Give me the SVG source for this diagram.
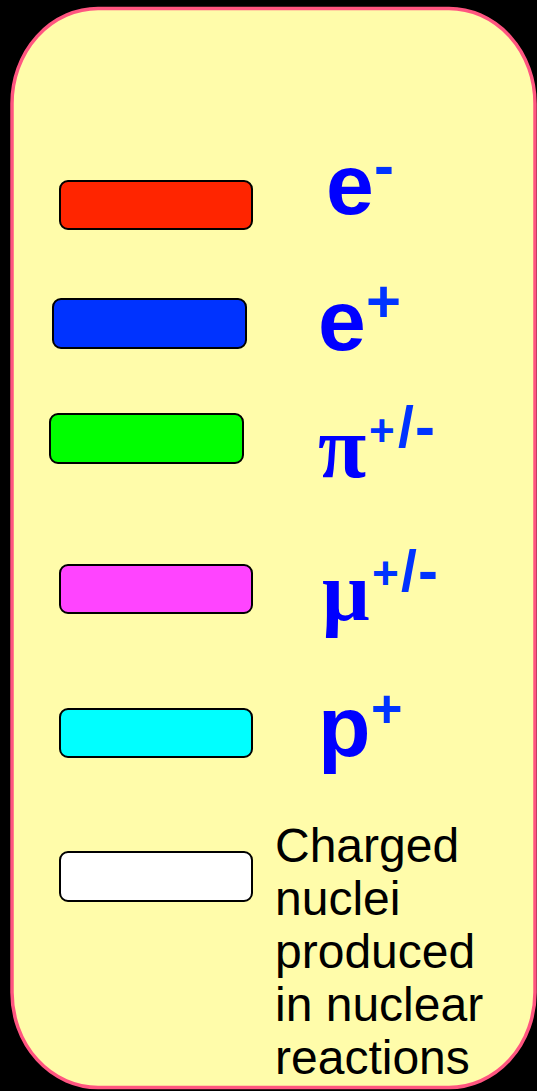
<svg xmlns="http://www.w3.org/2000/svg" width="537" height="1091" viewBox="0 0 537 1091">
<style>
.bar{stroke:#000;stroke-width:2;}
.sym{font-family:"Liberation Sans",Arial,sans-serif;font-weight:bold;fill:#0000FF;}
.greek{font-family:"Liberation Serif","Times New Roman",serif;font-weight:bold;fill:#0000FF;}
.sup{font-family:"Liberation Sans",Arial,sans-serif;font-weight:bold;fill:#0033FF;}
.label{font-family:"Liberation Sans",Arial,sans-serif;font-size:48px;fill:#000;}
</style>
<rect x="0" y="0" width="537" height="1091" fill="#000"/>
<g id="panel">
<rect x="12" y="8.5" width="523" height="1079" rx="86" ry="95" fill="#FFFCAA" stroke="#FF5580" stroke-width="3.5"/>
</g>
<g id="electron">
<rect class="bar" x="60" y="181" width="192" height="48" rx="8" fill="#FF2500"/>
<text class="sym" x="326" y="214" font-size="86">e<tspan class="sup" x="374" y="186" font-size="60">-</tspan></text>
</g>
<g id="positron">
<rect class="bar" x="53" y="299" width="193" height="49" rx="8" fill="#0033FF"/>
<text class="sym" x="318" y="350" font-size="86">e<tspan class="sup" x="366" y="322" font-size="60">+</tspan></text>
</g>
<g id="pion">
<rect class="bar" x="50" y="414" width="193" height="49" rx="8" fill="#00FF00"/>
<text class="greek" x="318" y="477" font-size="88">π</text>
<text class="sup" y="446"><tspan x="369" font-size="44">+</tspan><tspan x="398" y="447" font-size="57">/</tspan><tspan x="415" y="447" font-size="60">-</tspan></text>
</g>
<g id="muon">
<rect class="bar" x="60" y="565" width="192" height="48" rx="8" fill="#FF44FF"/>
<text class="greek" x="322" y="620" font-size="84">μ</text>
<text class="sup" y="589"><tspan x="372" font-size="46">+</tspan><tspan x="401" y="591" font-size="57">/</tspan><tspan x="418" y="591" font-size="60">-</tspan></text>
</g>
<g id="proton">
<rect class="bar" x="60" y="709" width="192" height="48" rx="8" fill="#00FFFF"/>
<text class="sym" x="318" y="756" font-size="86">p<tspan class="sup" x="371" y="727" font-size="54">+</tspan></text>
</g>
<g id="nuclei">
<rect class="bar" x="60" y="852" width="192" height="49" rx="8" fill="#FFFFFF"/>
<text class="label" x="275"><tspan x="275" y="862">Charged</tspan><tspan x="275" y="915">nuclei</tspan><tspan x="275" y="968">produced</tspan><tspan x="275" y="1021">in nuclear</tspan><tspan x="275" y="1074">reactions</tspan></text>
</g>
<g id="connectors"/>
</svg>
